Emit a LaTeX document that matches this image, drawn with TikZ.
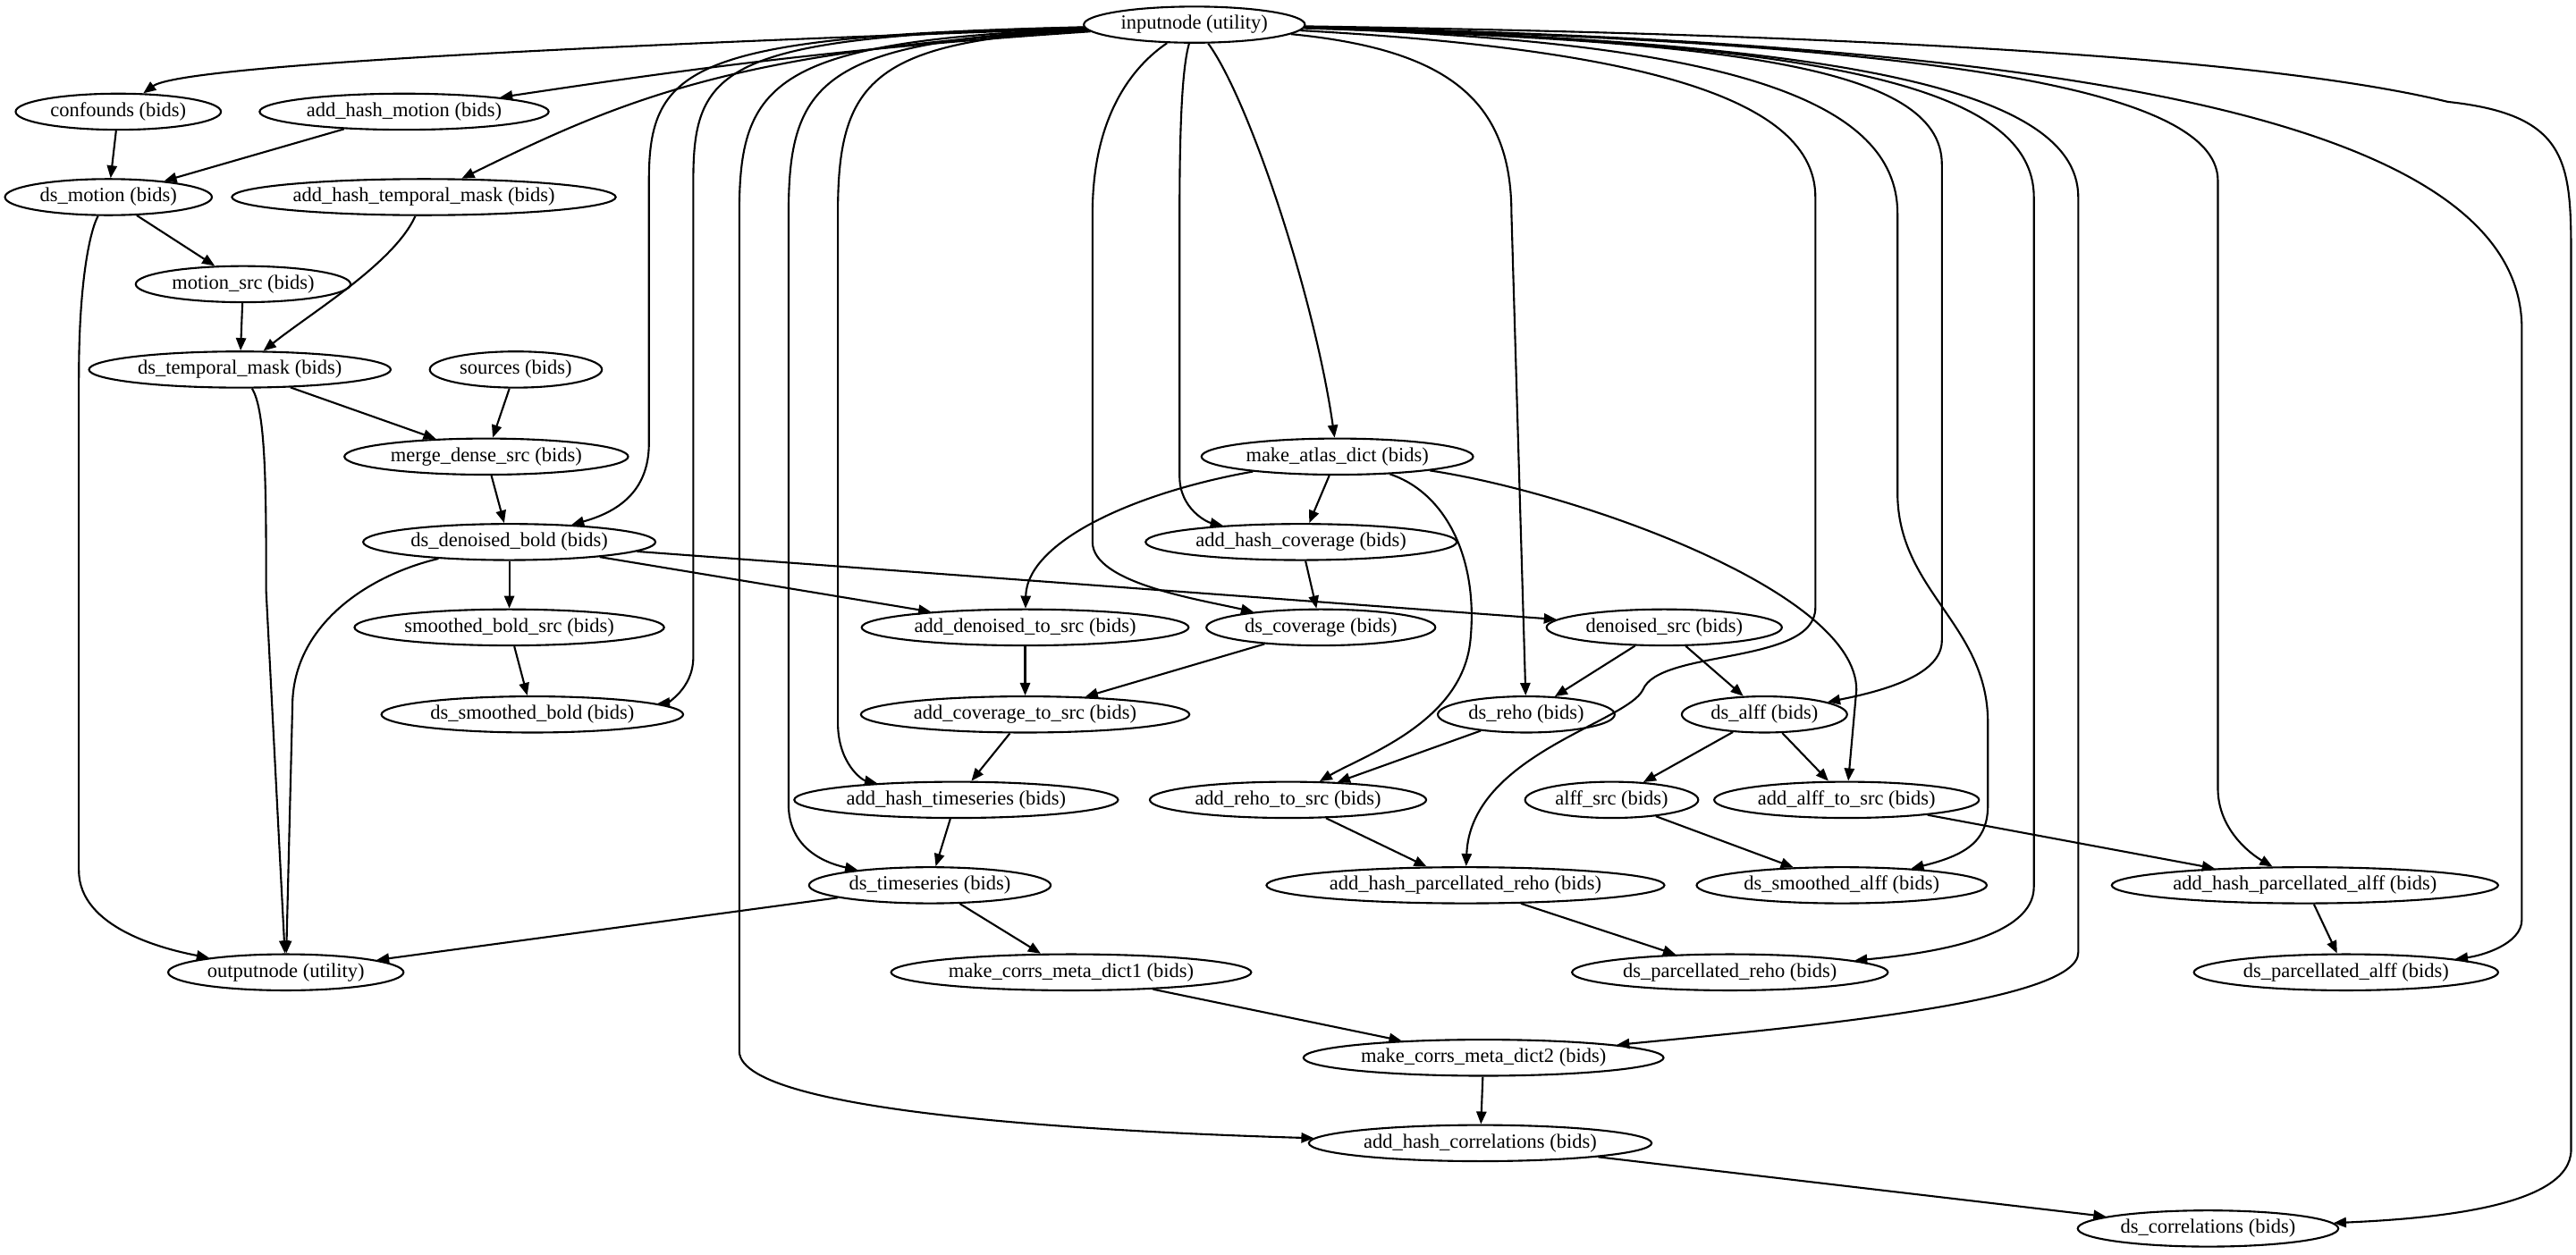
\documentclass[tikz,border=0pt]{standalone}
\usepackage{fontspec}
\setmainfont{Liberation Serif}
\usetikzlibrary{arrows.meta,shapes.geometric}

\tikzset{
  wf/.style={ellipse,draw,line width=0.6pt,inner xsep=1.5pt,inner ysep=0pt,minimum height=11.5pt,font=\fontsize{6.4}{7}\selectfont},
  edge/.style={line width=0.6pt,-{Triangle[length=4pt,width=3.2pt]}},
}

\begin{document}
\begin{tikzpicture}[x=0.018374cm,y=-0.018374cm]
	\useasboundingbox (0,0) rectangle (1568,764);
	% nodes
	\node[wf] (in) at (727,15) {inputnode (utility)};
	\node[wf] (cf) at (72,68) {confounds (bids)};
	\node[wf] (ahm) at (246,68) {add\_hash\_motion (bids)};
	\node[wf] (dm) at (66,120) {ds\_motion (bids)};
	\node[wf] (ahtm) at (258,120) {add\_hash\_temporal\_mask (bids)};
	\node[wf] (ms) at (148,173) {motion\_src (bids)};
	\node[wf] (dtm) at (146,225) {ds\_temporal\_mask (bids)};
	\node[wf] (src) at (314,225) {sources (bids)};
	\node[wf] (mds) at (296,278) {merge\_dense\_src (bids)};
	\node[wf] (mad) at (814,278) {make\_atlas\_dict (bids)};
	\node[wf] (ddb) at (310,330) {ds\_denoised\_bold (bids)};
	\node[wf] (ahc) at (792,330) {add\_hash\_coverage (bids)};
	\node[wf] (sbs) at (310,382) {smoothed\_bold\_src (bids)};
	\node[wf] (ads) at (624,382) {add\_denoised\_to\_src (bids)};
	\node[wf] (dc) at (804,382) {ds\_coverage (bids)};
	\node[wf] (dns) at (1013,382) {denoised\_src (bids)};
	\node[wf] (dsb) at (324,435) {ds\_smoothed\_bold (bids)};
	\node[wf] (acs) at (624,435) {add\_coverage\_to\_src (bids)};
	\node[wf] (dr) at (929,435) {ds\_reho (bids)};
	\node[wf] (da) at (1074,435) {ds\_alff (bids)};
	\node[wf] (aht) at (582,487) {add\_hash\_timeseries (bids)};
	\node[wf] (ars) at (784,487) {add\_reho\_to\_src (bids)};
	\node[wf] (as) at (981,487) {alff\_src (bids)};
	\node[wf] (aas) at (1124,487) {add\_alff\_to\_src (bids)};
	\node[wf] (dt) at (566,539) {ds\_timeseries (bids)};
	\node[wf] (ahpr) at (892,539) {add\_hash\_parcellated\_reho (bids)};
	\node[wf] (dsa) at (1121,539) {ds\_smoothed\_alff (bids)};
	\node[wf] (ahpa) at (1403,539) {add\_hash\_parcellated\_alff (bids)};
	\node[wf] (out) at (174,592) {outputnode (utility)};
	\node[wf] (mc1) at (652,592) {make\_corrs\_meta\_dict1 (bids)};
	\node[wf] (dpr) at (1053,592) {ds\_parcellated\_reho (bids)};
	\node[wf] (dpa) at (1428,592) {ds\_parcellated\_alff (bids)};
	\node[wf] (mc2) at (903,644) {make\_corrs\_meta\_dict2 (bids)};
	\node[wf] (ahco) at (901,696) {add\_hash\_correlations (bids)};
	\node[wf] (dco) at (1344,748) {ds\_correlations (bids)};

	% edges out of inputnode
	\draw[edge] (in) .. controls (350,28) and (110,40) .. (cf);
	\draw[edge] (in) .. controls (500,30) and (400,45) .. (ahm);
	\draw[edge] (in) .. controls (450,30) and (380,60) .. (ahtm);
	\draw[edge] (in) .. controls (420,22) and (395,40) .. (395,110) -- (395,270) .. controls (395,300) and (375,312) .. (ddb);
	\draw[edge] (in) .. controls (440,22) and (422,40) .. (422,110) -- (422,400) .. controls (422,420) and (405,428) .. (dsb);
	\draw[edge] (in) .. controls (470,25) and (450,50) .. (450,130) -- (450,640) .. controls (450,680) and (700,690) .. (ahco);
	\draw[edge] (in) .. controls (500,25) and (480,50) .. (480,130) -- (480,490) .. controls (480,515) and (500,525) .. (dt);
	\draw[edge] (in) .. controls (530,25) and (510,50) .. (510,130) -- (510,440) .. controls (510,465) and (525,475) .. (aht);
	\draw[edge] (in) .. controls (690,40) and (665,70) .. (665,130) -- (665,330) .. controls (665,355) and (730,365) .. (dc);
	\draw[edge] (in) .. controls (720,40) and (718,70) .. (718,130) -- (718,290) .. controls (718,310) and (735,318) .. (ahc);
	\draw[edge] (in) .. controls (760,60) and (800,180) .. (mad);
	\draw[edge] (in) .. controls (880,30) and (920,60) .. (920,130) -- (dr);
	\draw[edge] (in) .. controls (1000,30) and (1105,60) .. (1105,120) -- (1105,370) .. controls (1105,405) and (1010,395) .. (1000,420) .. controls (990,440) and (895,460) .. (ahpr);
	\draw[edge] (in) .. controls (1050,25) and (1182,40) .. (1182,100) -- (1182,390) .. controls (1182,410) and (1150,420) .. (da);
	\draw[edge] (in) .. controls (1050,25) and (1155,60) .. (1155,130) -- (1155,300) .. controls (1155,360) and (1210,380) .. (1210,440) -- (1210,490) .. controls (1210,510) and (1200,520) .. (dsa);
	\draw[edge] (in) .. controls (1100,25) and (1238,50) .. (1238,120) -- (1238,540) .. controls (1238,570) and (1180,580) .. (dpr);
	\draw[edge] (in) .. controls (1100,25) and (1265,50) .. (1265,120) -- (1265,580) .. controls (1265,610) and (1100,625) .. (mc2);
	\draw[edge] (in) .. controls (1150,25) and (1350,50) .. (1350,110) -- (1350,480) .. controls (1350,505) and (1370,520) .. (ahpa);
	\draw[edge] (in) .. controls (1200,25) and (1535,60) .. (1535,200) -- (1535,560) .. controls (1535,575) and (1510,582) .. (dpa);
	\draw[edge] (in) .. controls (1200,22) and (1400,40) .. (1490,62) .. controls (1565,70) and (1565,100) .. (1565,160) -- (1565,700) .. controls (1565,735) and (1480,742) .. (dco);

	% other edges
	\draw[edge] (cf) -- (dm);
	\draw[edge] (ahm) -- (dm);
	\draw[edge] (dm) -- (ms);
	\draw[edge] (dm) .. controls (55,140) and (48,170) .. (48,230) -- (48,530) .. controls (48,565) and (100,578) .. (out);
	\draw[edge] (ahtm) .. controls (240,160) and (190,190) .. (dtm);
	\draw[edge] (ms) -- (dtm);
	\draw[edge] (dtm) -- (mds);
	\draw[edge] (dtm) .. controls (162,250) and (162,300) .. (162,360) -- (out);
	\draw[edge] (src) -- (mds);
	\draw[edge] (mds) -- (ddb);
	\draw[edge] (ddb) -- (sbs);
	\draw[edge] (ddb) -- (ads);
	\draw[edge] (ddb) -- (dns);
	\draw[edge] (ddb) .. controls (225,350) and (178,380) .. (178,430) -- (out);
	\draw[edge] (sbs) -- (dsb);
	\draw[edge] (mad) -- (ahc);
	\draw[edge] (mad) .. controls (690,300) and (625,330) .. (ads);
	\draw[edge] (mad) .. controls (880,300) and (900,340) .. (895,390) .. controls (890,440) and (830,460) .. (ars);
	\draw[edge] (mad) .. controls (960,300) and (1130,360) .. (1130,420) -- (aas);
	\draw[edge] (ahc) -- (dc);
	\draw[edge] (dc) -- (acs);
	\draw[edge] (ads) -- (acs);
	\draw[edge] (acs) -- (aht);
	\draw[edge] (aht) -- (dt);
	\draw[edge] (dt) -- (out);
	\draw[edge] (dt) -- (mc1);
	\draw[edge] (mc1) -- (mc2);
	\draw[edge] (mc2) -- (ahco);
	\draw[edge] (ahco) -- (dco);
	\draw[edge] (dns) -- (dr);
	\draw[edge] (dns) -- (da);
	\draw[edge] (dr) -- (ars);
	\draw[edge] (ars) -- (ahpr);
	\draw[edge] (ahpr) -- (dpr);
	\draw[edge] (da) -- (as);
	\draw[edge] (da) -- (aas);
	\draw[edge] (as) -- (dsa);
	\draw[edge] (aas) -- (ahpa);
	\draw[edge] (ahpa) -- (dpa);
\end{tikzpicture}
\end{document}
